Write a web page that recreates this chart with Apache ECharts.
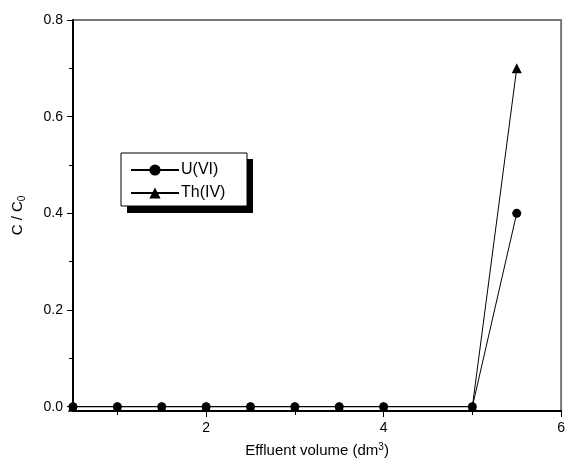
<!DOCTYPE html>
<html>
<head>
<meta charset="utf-8">
<script src="https://cdn.jsdelivr.net/npm/echarts@6/dist/echarts.min.js"></script>
<style>
  html, body { margin: 0; padding: 0; background: #fff; }
  #chart { width: 568px; height: 464px; }
</style>
</head>
<body>
<div id="chart"></div>
<script>
// effluent volume (dm3)
const volume = [0.5, 1, 1.5, 2, 2.5, 3, 3.5, 4, 5, 5.5];
const uranium = [0, 0, 0, 0, 0, 0, 0, 0, 0, 0.4];
const thorium = [0, 0, 0, 0, 0, 0, 0, 0, 0, 0.7];
const yLabels = [0, 0.2, 0.4, 0.6, 0.8];
const yMinor = [0.1, 0.3, 0.5, 0.7];
const xLabels = [2, 4, 6];
const xMinor = [1, 3, 5];

const font = 'Liberation Sans, Arial, sans-serif';
const pairs = (ys) => volume.map((x, i) => [x, ys[i]]);

let chart = echarts.init(document.getElementById('chart'));

const yBase = {
    type: 'value', min: -0.009, max: 0.8,
    splitLine: { show: false },
};
const xBase = {
    type: 'value', min: 0.5, max: 6,
    splitLine: { show: false },
};

chart.setOption({
    animation: false,
    grid: { left: 73, right: 5, top: 20, bottom: 53, show: true, borderColor: '#777', borderWidth: 2 },
    graphic: [
        // legend frame with drop shadow
        { type: 'rect', z: 1, shape: { x: 127, y: 159, width: 126, height: 54 }, style: { fill: '#000' } },
        { type: 'rect', z: 2, shape: { x: 121, y: 153, width: 126, height: 53 }, style: { fill: '#fff', stroke: '#000', lineWidth: 1 } }
    ],
    xAxis: [
        Object.assign({}, xBase, {
            position: 'bottom',
            axisLine: { show: true, onZero: false, lineStyle: { color: '#000', width: 2 } },
            axisTick: { show: true, customValues: xLabels, length: 6, lineStyle: { color: '#000' } },
            axisLabel: { customValues: xLabels, color: '#000', fontSize: 14, fontFamily: font, margin: 10 },
            name: '{a|Effluent volume (dm}{s|3}{a|)}',
            nameLocation: 'middle',
            nameGap: 31,
            nameTextStyle: {
                rich: {
                    a: { fontSize: 15, fontFamily: font, color: '#000' },
                    s: { fontSize: 10, fontFamily: font, color: '#000', verticalAlign: 'top', padding: [0, 0, 8, 0] }
                }
            }
        }),
        Object.assign({}, xBase, {
            position: 'bottom',
            axisLine: { show: false, onZero: false },
            axisTick: { show: true, customValues: xMinor, length: 4, lineStyle: { color: '#000' } },
            axisLabel: { show: false }
        })
    ],
    yAxis: [
        Object.assign({}, yBase, {
            position: 'left',
            axisLine: { show: true, onZero: false, lineStyle: { color: '#000', width: 2 } },
            axisTick: { show: true, customValues: yLabels, length: 6, lineStyle: { color: '#000' } },
            axisLabel: { customValues: yLabels, color: '#000', fontSize: 14, fontFamily: font, margin: 10,
                formatter: (v) => v.toFixed(1) },
            name: '{a|C / C}{s|0}',
            nameLocation: 'middle',
            nameGap: 46,
            nameTextStyle: {
                rich: {
                    a: { fontSize: 15, fontFamily: font, color: '#000' },
                    s: { fontSize: 10, fontFamily: font, color: '#000', verticalAlign: 'bottom', padding: [8, 0, 0, 0] }
                }
            }
        }),
        Object.assign({}, yBase, {
            position: 'left',
            axisLine: { show: false, onZero: false },
            axisTick: { show: true, customValues: yMinor, length: 4, lineStyle: { color: '#000' } },
            axisLabel: { show: false }
        })
    ],
    legend: {
        left: 130, top: 162,
        orient: 'vertical',
        z: 5,
        padding: 0,
        itemGap: 7,
        itemWidth: 48, itemHeight: 14,
        textStyle: { fontSize: 16, fontFamily: font, color: '#000', padding: [0, 0, 0, -3] },
        data: ['U(VI)', 'Th(IV)']
    },
    series: [
        {
            name: 'U(VI)', type: 'line', data: pairs(uranium),
            symbol: 'circle', symbolSize: 9,
            lineStyle: { color: '#000', width: 1 },
            itemStyle: { color: '#000' }
        },
        {
            name: 'Th(IV)', type: 'line', data: pairs(thorium),
            symbol: 'triangle', symbolSize: 10,
            lineStyle: { color: '#000', width: 1 },
            itemStyle: { color: '#000' }
        }
    ]
});
</script>
</body>
</html>
